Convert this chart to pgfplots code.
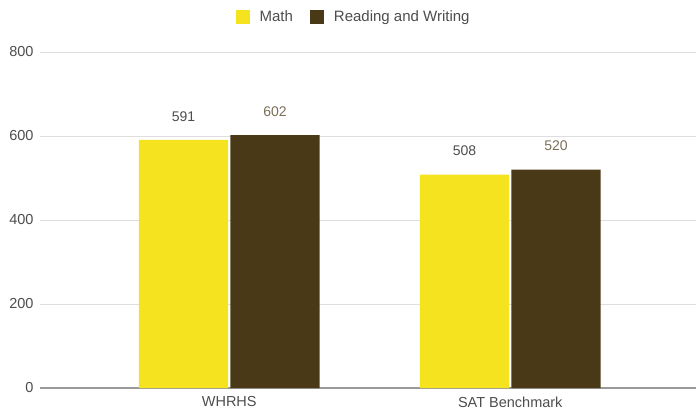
\documentclass[border=0pt]{standalone}
\usepackage{pgfplots}
\pgfplotsset{compat=1.18}
\usepackage{fontspec}
\setmainfont{Liberation Sans}
\definecolor{mathyel}{HTML}{F5E31F}
\definecolor{rwbrown}{HTML}{4A3916}
\definecolor{lblgray}{HTML}{4D4D4D}
\definecolor{lblbrown}{HTML}{7A6E58}
\begin{document}
\begin{tikzpicture}
\useasboundingbox (-40pt,-28pt) rectangle (656pt,388pt);
\begin{axis}[
    scale only axis,
    width=656pt, height=336pt,
    xmin=-0.6735, xmax=1.661,
    ymin=0, ymax=800,
    ytick={200,400,600,800},
    extra y ticks={0},
    extra y tick style={grid style={color=black!40, line width=1.1pt}},
    xtick={0,1},
    xticklabels={WHRHS,SAT Benchmark},
    major tick length=0pt,
    axis line style={draw=none},
    ymajorgrids,
    grid style={color=black!13, line width=0.8pt},
    /pgf/number format/assume math mode=true,
    ticklabel style={font=\fontsize{14.5}{16}\selectfont, color=lblgray},
    yticklabel style={xshift=-3pt},
    xticklabel style={yshift=-5pt},
    ybar,
    bar width=0.317,
    legend style={draw=none, at={(0.478,1.104)}, anchor=center,
        legend columns=2, font=\fontsize{15}{16}\selectfont, text=lblgray,
        /tikz/every odd column/.append style={column sep=8pt},
        /tikz/every even column/.append style={column sep=15pt}},
    legend image code/.code={\fill[#1] (0pt,-7pt) rectangle (14pt,7pt);},
    clip=false,
]
\addplot[fill=mathyel, draw=none, bar shift=-0.1628,
    nodes near coords,
    every node near coord/.append style={font=\fontsize{14}{16}\selectfont, color=lblgray, yshift=15pt}]
    coordinates {(0,591) (1,508)};
\addplot[fill=rwbrown, draw=none, bar shift=0.1628,
    nodes near coords,
    every node near coord/.append style={font=\fontsize{14}{16}\selectfont, color=lblbrown, yshift=15pt}]
    coordinates {(0,602) (1,520)};
\legend{Math, Reading and Writing}
\end{axis}
\end{tikzpicture}
\end{document}
